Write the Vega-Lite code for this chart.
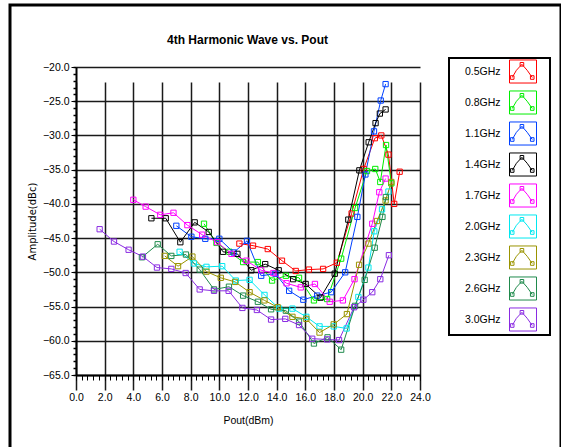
{
  "$schema": "https://vega.github.io/schema/vega-lite/v6.json",
  "autosize": {"type": "none"},
  "padding": {"left": 10, "top": 5, "right": 0, "bottom": 0},
  "width": 551,
  "height": 447,
  "background": "white",
  "config": {
    "view": {"stroke": "#000000", "strokeWidth": 3, "fill": "white"},
    "legend": {"strokeWidth": 2}
  },
  "title": {
    "text": "4th Harmonic Wave vs. Pout",
    "anchor": "middle",
    "offset": -42,
    "dx": -38,
    "font": "Liberation Sans, Arial, sans-serif",
    "fontSize": 12,
    "fontWeight": "bold",
    "color": "#000000"
  },
  "data": {
    "values": [
      {"f": "0.5GHz", "x": 11.4, "y": -45.8},
      {"f": "0.5GHz", "x": 12.35, "y": -46.1},
      {"f": "0.5GHz", "x": 13.38, "y": -46.6},
      {"f": "0.5GHz", "x": 14.37, "y": -48.3},
      {"f": "0.5GHz", "x": 15.33, "y": -49.8},
      {"f": "0.5GHz", "x": 16.25, "y": -49.6},
      {"f": "0.5GHz", "x": 17.24, "y": -49.5},
      {"f": "0.5GHz", "x": 18.2, "y": -48.6},
      {"f": "0.5GHz", "x": 19.23, "y": -41.4},
      {"f": "0.5GHz", "x": 20.07, "y": -34.9},
      {"f": "0.5GHz", "x": 20.85, "y": -30.4},
      {"f": "0.5GHz", "x": 21.3, "y": -30.0},
      {"f": "0.5GHz", "x": 21.8, "y": -32.8},
      {"f": "0.5GHz", "x": 22.2, "y": -40.0},
      {"f": "0.5GHz", "x": 22.58, "y": -35.3},

      {"f": "0.8GHz", "x": 8.93, "y": -42.9},
      {"f": "0.8GHz", "x": 9.8, "y": -45.7},
      {"f": "0.8GHz", "x": 10.7, "y": -47.0},
      {"f": "0.8GHz", "x": 11.66, "y": -48.5},
      {"f": "0.8GHz", "x": 12.69, "y": -48.5},
      {"f": "0.8GHz", "x": 13.68, "y": -51.2},
      {"f": "0.8GHz", "x": 14.64, "y": -50.5},
      {"f": "0.8GHz", "x": 15.56, "y": -50.8},
      {"f": "0.8GHz", "x": 16.6, "y": -54.1},
      {"f": "0.8GHz", "x": 17.52, "y": -53.9},
      {"f": "0.8GHz", "x": 18.5, "y": -48.0},
      {"f": "0.8GHz", "x": 19.47, "y": -40.6},
      {"f": "0.8GHz", "x": 20.3, "y": -35.2},
      {"f": "0.8GHz", "x": 20.88, "y": -34.9},
      {"f": "0.8GHz", "x": 21.23, "y": -36.8},
      {"f": "0.8GHz", "x": 21.63, "y": -31.4},
      {"f": "0.8GHz", "x": 22.0, "y": -37.0},

      {"f": "1.1GHz", "x": 7.0, "y": -43.2},
      {"f": "1.1GHz", "x": 8.05, "y": -44.8},
      {"f": "1.1GHz", "x": 9.02, "y": -45.1},
      {"f": "1.1GHz", "x": 10.0, "y": -45.1},
      {"f": "1.1GHz", "x": 11.0, "y": -47.1},
      {"f": "1.1GHz", "x": 11.93, "y": -45.4},
      {"f": "1.1GHz", "x": 12.92, "y": -50.5},
      {"f": "1.1GHz", "x": 13.91, "y": -50.2},
      {"f": "1.1GHz", "x": 14.87, "y": -52.7},
      {"f": "1.1GHz", "x": 15.86, "y": -54.0},
      {"f": "1.1GHz", "x": 16.83, "y": -53.4},
      {"f": "1.1GHz", "x": 17.8, "y": -52.9},
      {"f": "1.1GHz", "x": 18.78, "y": -50.0},
      {"f": "1.1GHz", "x": 19.63, "y": -41.9},
      {"f": "1.1GHz", "x": 20.19, "y": -35.7},
      {"f": "1.1GHz", "x": 20.79, "y": -29.4},
      {"f": "1.1GHz", "x": 21.26, "y": -24.9},
      {"f": "1.1GHz", "x": 21.6, "y": -22.5},

      {"f": "1.4GHz", "x": 5.26, "y": -42.1},
      {"f": "1.4GHz", "x": 6.26, "y": -42.1},
      {"f": "1.4GHz", "x": 7.28, "y": -45.6},
      {"f": "1.4GHz", "x": 8.28, "y": -42.7},
      {"f": "1.4GHz", "x": 9.26, "y": -44.1},
      {"f": "1.4GHz", "x": 10.26, "y": -47.0},
      {"f": "1.4GHz", "x": 11.26, "y": -47.3},
      {"f": "1.4GHz", "x": 12.23, "y": -49.7},
      {"f": "1.4GHz", "x": 13.2, "y": -48.8},
      {"f": "1.4GHz", "x": 14.14, "y": -49.7},
      {"f": "1.4GHz", "x": 15.15, "y": -51.0},
      {"f": "1.4GHz", "x": 16.02, "y": -51.7},
      {"f": "1.4GHz", "x": 17.06, "y": -53.7},
      {"f": "1.4GHz", "x": 18.05, "y": -50.2},
      {"f": "1.4GHz", "x": 19.0, "y": -42.3},
      {"f": "1.4GHz", "x": 19.77, "y": -35.1},
      {"f": "1.4GHz", "x": 20.42, "y": -31.0},
      {"f": "1.4GHz", "x": 20.9, "y": -28.2},
      {"f": "1.4GHz", "x": 21.2, "y": -26.8},
      {"f": "1.4GHz", "x": 21.6, "y": -26.2},

      {"f": "1.7GHz", "x": 4.0, "y": -39.4},
      {"f": "1.7GHz", "x": 4.86, "y": -40.4},
      {"f": "1.7GHz", "x": 5.88, "y": -41.6},
      {"f": "1.7GHz", "x": 6.8, "y": -41.3},
      {"f": "1.7GHz", "x": 7.77, "y": -43.1},
      {"f": "1.7GHz", "x": 8.8, "y": -44.5},
      {"f": "1.7GHz", "x": 9.85, "y": -45.6},
      {"f": "1.7GHz", "x": 10.85, "y": -47.3},
      {"f": "1.7GHz", "x": 11.89, "y": -48.3},
      {"f": "1.7GHz", "x": 12.92, "y": -49.7},
      {"f": "1.7GHz", "x": 13.77, "y": -50.1},
      {"f": "1.7GHz", "x": 14.69, "y": -51.6},
      {"f": "1.7GHz", "x": 15.68, "y": -52.2},
      {"f": "1.7GHz", "x": 16.67, "y": -51.7},
      {"f": "1.7GHz", "x": 17.7, "y": -54.3},
      {"f": "1.7GHz", "x": 18.62, "y": -54.1},
      {"f": "1.7GHz", "x": 19.43, "y": -51.0},
      {"f": "1.7GHz", "x": 20.67, "y": -42.9},
      {"f": "1.7GHz", "x": 21.16, "y": -38.3},
      {"f": "1.7GHz", "x": 21.6, "y": -36.3},

      {"f": "2.0GHz", "x": 7.23, "y": -47.0},
      {"f": "2.0GHz", "x": 8.23, "y": -48.7},
      {"f": "2.0GHz", "x": 9.1, "y": -49.2},
      {"f": "2.0GHz", "x": 10.2, "y": -49.1},
      {"f": "2.0GHz", "x": 11.15, "y": -51.2},
      {"f": "2.0GHz", "x": 12.11, "y": -51.1},
      {"f": "2.0GHz", "x": 13.15, "y": -53.3},
      {"f": "2.0GHz", "x": 14.18, "y": -55.3},
      {"f": "2.0GHz", "x": 15.1, "y": -55.3},
      {"f": "2.0GHz", "x": 16.07, "y": -56.5},
      {"f": "2.0GHz", "x": 16.99, "y": -57.9},
      {"f": "2.0GHz", "x": 17.98, "y": -57.9},
      {"f": "2.0GHz", "x": 18.88, "y": -58.2},
      {"f": "2.0GHz", "x": 19.7, "y": -53.6},
      {"f": "2.0GHz", "x": 20.4, "y": -49.3},
      {"f": "2.0GHz", "x": 20.81, "y": -44.0},
      {"f": "2.0GHz", "x": 21.35, "y": -40.8},
      {"f": "2.0GHz", "x": 21.8, "y": -38.2},

      {"f": "2.3GHz", "x": 6.19, "y": -47.6},
      {"f": "2.3GHz", "x": 7.12, "y": -49.1},
      {"f": "2.3GHz", "x": 8.12, "y": -47.7},
      {"f": "2.3GHz", "x": 9.1, "y": -49.9},
      {"f": "2.3GHz", "x": 10.1, "y": -50.8},
      {"f": "2.3GHz", "x": 11.1, "y": -51.4},
      {"f": "2.3GHz", "x": 12.11, "y": -52.9},
      {"f": "2.3GHz", "x": 13.15, "y": -54.1},
      {"f": "2.3GHz", "x": 14.07, "y": -55.1},
      {"f": "2.3GHz", "x": 15.1, "y": -56.5},
      {"f": "2.3GHz", "x": 16.07, "y": -56.8},
      {"f": "2.3GHz", "x": 16.99, "y": -58.8},
      {"f": "2.3GHz", "x": 17.98, "y": -57.6},
      {"f": "2.3GHz", "x": 18.9, "y": -56.1},
      {"f": "2.3GHz", "x": 19.75, "y": -48.9},
      {"f": "2.3GHz", "x": 20.4, "y": -45.8},
      {"f": "2.3GHz", "x": 21.0, "y": -42.5},
      {"f": "2.3GHz", "x": 21.6, "y": -39.5},
      {"f": "2.3GHz", "x": 22.0, "y": -36.8},

      {"f": "2.6GHz", "x": 4.6, "y": -47.8},
      {"f": "2.6GHz", "x": 5.7, "y": -45.9},
      {"f": "2.6GHz", "x": 6.65, "y": -47.6},
      {"f": "2.6GHz", "x": 7.67, "y": -47.4},
      {"f": "2.6GHz", "x": 8.63, "y": -49.6},
      {"f": "2.6GHz", "x": 9.63, "y": -52.5},
      {"f": "2.6GHz", "x": 10.67, "y": -52.1},
      {"f": "2.6GHz", "x": 11.66, "y": -53.4},
      {"f": "2.6GHz", "x": 12.69, "y": -54.3},
      {"f": "2.6GHz", "x": 13.61, "y": -55.4},
      {"f": "2.6GHz", "x": 14.64, "y": -55.6},
      {"f": "2.6GHz", "x": 15.56, "y": -57.2},
      {"f": "2.6GHz", "x": 16.6, "y": -60.4},
      {"f": "2.6GHz", "x": 17.55, "y": -59.5},
      {"f": "2.6GHz", "x": 18.5, "y": -61.3},
      {"f": "2.6GHz", "x": 19.47, "y": -54.9},
      {"f": "2.6GHz", "x": 20.14, "y": -51.1},
      {"f": "2.6GHz", "x": 20.84, "y": -46.4},
      {"f": "2.6GHz", "x": 21.38, "y": -41.9},
      {"f": "2.6GHz", "x": 21.62, "y": -39.0},

      {"f": "3.0GHz", "x": 1.65, "y": -43.7},
      {"f": "3.0GHz", "x": 2.65, "y": -45.5},
      {"f": "3.0GHz", "x": 3.67, "y": -46.7},
      {"f": "3.0GHz", "x": 4.67, "y": -47.7},
      {"f": "3.0GHz", "x": 5.65, "y": -49.3},
      {"f": "3.0GHz", "x": 6.65, "y": -49.5},
      {"f": "3.0GHz", "x": 7.65, "y": -50.1},
      {"f": "3.0GHz", "x": 8.63, "y": -52.5},
      {"f": "3.0GHz", "x": 9.63, "y": -52.7},
      {"f": "3.0GHz", "x": 10.65, "y": -52.7},
      {"f": "3.0GHz", "x": 11.61, "y": -55.2},
      {"f": "3.0GHz", "x": 12.62, "y": -55.5},
      {"f": "3.0GHz", "x": 13.61, "y": -56.9},
      {"f": "3.0GHz", "x": 14.6, "y": -56.8},
      {"f": "3.0GHz", "x": 15.56, "y": -57.7},
      {"f": "3.0GHz", "x": 16.48, "y": -59.7},
      {"f": "3.0GHz", "x": 17.52, "y": -59.8},
      {"f": "3.0GHz", "x": 18.35, "y": -59.9},
      {"f": "3.0GHz", "x": 19.4, "y": -55.1},
      {"f": "3.0GHz", "x": 20.05, "y": -54.0},
      {"f": "3.0GHz", "x": 20.67, "y": -52.9},
      {"f": "3.0GHz", "x": 21.23, "y": -51.0},
      {"f": "3.0GHz", "x": 21.83, "y": -47.5}
    ]
  },
  "layer": [
    {
      "mark": {"type": "line", "strokeWidth": 1, "clip": false},
      "encoding": {
        "x": {
          "field": "x", "type": "quantitative",
          "scale": {"domain": [0, 24], "range": [66, 410], "nice": false, "zero": false},
          "axis": {
            "orient": "bottom", "offset": -77,
            "values": [0, 2, 4, 6, 8, 10, 12, 14, 16, 18, 20, 22, 24],
            "format": ".1f",
            "grid": true, "gridColor": "#1a1a1a", "gridWidth": 1.5, "gridOpacity": 1,
            "domainColor": "#000000", "domainWidth": 2,
            "tickColor": "#000000", "tickSize": 5, "tickWidth": 1,
            "labelFont": "Liberation Sans, Arial, sans-serif",
            "labelFontSize": 10.5, "labelColor": "#000000", "labelPadding": 12,
            "labelFlush": false, "labelOverlap": false,
            "title": "Pout(dBm)",
            "titleFont": "Liberation Sans, Arial, sans-serif",
            "titleFontSize": 10.5, "titleFontWeight": "normal", "titleColor": "#000000",
            "titlePadding": 13
          }
        },
        "y": {
          "field": "y", "type": "quantitative",
          "scale": {"domain": [-65, -20], "range": [370, 62], "nice": false, "zero": false},
          "axis": {
            "orient": "left", "offset": -66,
            "values": [-65, -60, -55, -50, -45, -40, -35, -30, -25, -20],
            "format": ".1f",
            "grid": true, "gridColor": "#1a1a1a", "gridWidth": 1.5, "gridOpacity": 1,
            "domainColor": "#000000", "domainWidth": 2,
            "tickColor": "#000000", "tickSize": 5, "tickWidth": 1,
            "labelFont": "Liberation Sans, Arial, sans-serif",
            "labelFontSize": 10.5, "labelColor": "#000000", "labelPadding": 2,
            "labelFlush": false, "labelOverlap": false,
            "title": "Amplitude(dBc)",
            "titleFont": "DejaVu Sans, sans-serif",
            "titleFontSize": 10, "titleFontWeight": "normal", "titleColor": "#000000",
            "titlePadding": 5
          }
        },
        "color": {
          "field": "f", "type": "nominal",
          "scale": {
            "domain": ["0.5GHz", "0.8GHz", "1.1GHz", "1.4GHz", "1.7GHz", "2.0GHz", "2.3GHz", "2.6GHz", "3.0GHz"],
            "range": ["#ff0000", "#00ee00", "#0040ff", "#000000", "#ff00ff", "#00e8f0", "#9a9400", "#1f8a4c", "#8a2be2"]
          },
          "legend": {
            "orient": "none", "legendX": 439, "legendY": 53,
            "title": " ", "titleOrient": "right", "titlePadding": 10, "titleFontSize": 6,
            "strokeColor": "#000000", "fillColor": "#ffffff",
            "padding": 1, "rowPadding": 2,
            "symbolType": "M-1.125,-0.96H1.125V0.96H-1.125Z M-0.9,0.5L-0.55,-0.1L-0.09,-0.6L0.35,-0.1L0.77,0.5 M-1.05,0.35H-0.75V0.65H-1.05Z M-0.24,-0.75H0.06V-0.45H-0.24Z M0.62,0.35H0.92V0.65H0.62Z",
            "symbolSize": 576, "symbolStrokeWidth": 1, "symbolFillColor": "transparent",
            "symbolOffset": 60.5,
            "labelAlign": "left", "labelOffset": -70.5,
            "labelFont": "Liberation Sans, Arial, sans-serif",
            "labelFontSize": 10.5, "labelColor": "#000000"
          }
        }
      }
    },
    {
      "mark": {"type": "point", "shape": "square", "filled": false, "size": 28, "strokeWidth": 1, "opacity": 1, "clip": false},
      "encoding": {
        "x": {
          "field": "x", "type": "quantitative",
          "scale": {"domain": [0, 24], "range": [66, 410], "nice": false, "zero": false},
          "axis": {
            "orient": "bottom", "offset": -77,
            "values": [0, 0.4, 0.8, 1.2, 1.6, 2, 2.4, 2.8, 3.2, 3.6, 4, 4.4, 4.8, 5.2, 5.6, 6, 6.4, 6.8, 7.2, 7.6, 8, 8.4, 8.8, 9.2, 9.6, 10, 10.4, 10.8, 11.2, 11.6, 12, 12.4, 12.8, 13.2, 13.6, 14, 14.4, 14.8, 15.2, 15.6, 16, 16.4, 16.8, 17.2, 17.6, 18, 18.4, 18.8, 19.2, 19.6, 20, 20.4, 20.8, 21.2, 21.6, 22, 22.4, 22.8, 23.2, 23.6, 24],
            "labels": false, "grid": false, "domain": false,
            "ticks": true, "tickSize": 5, "tickColor": "#000000", "tickWidth": 1,
            "title": null
          }
        },
        "y": {
          "field": "y", "type": "quantitative",
          "scale": {"domain": [-65, -20], "range": [370, 62], "nice": false, "zero": false},
          "axis": {
            "orient": "left", "offset": -66,
            "values": [-65, -64, -63, -62, -61, -60, -59, -58, -57, -56, -55, -54, -53, -52, -51, -50, -49, -48, -47, -46, -45, -44, -43, -42, -41, -40, -39, -38, -37, -36, -35, -34, -33, -32, -31, -30, -29, -28, -27, -26, -25, -24, -23, -22, -21, -20],
            "labels": false, "grid": false, "domain": false,
            "ticks": true, "tickSize": 3, "tickColor": "#000000", "tickWidth": 1.5,
            "title": null
          }
        },
        "color": {"field": "f", "type": "nominal", "legend": null}
      }
    }
  ],
  "resolve": {"axis": {"x": "independent", "y": "independent"}}
}
